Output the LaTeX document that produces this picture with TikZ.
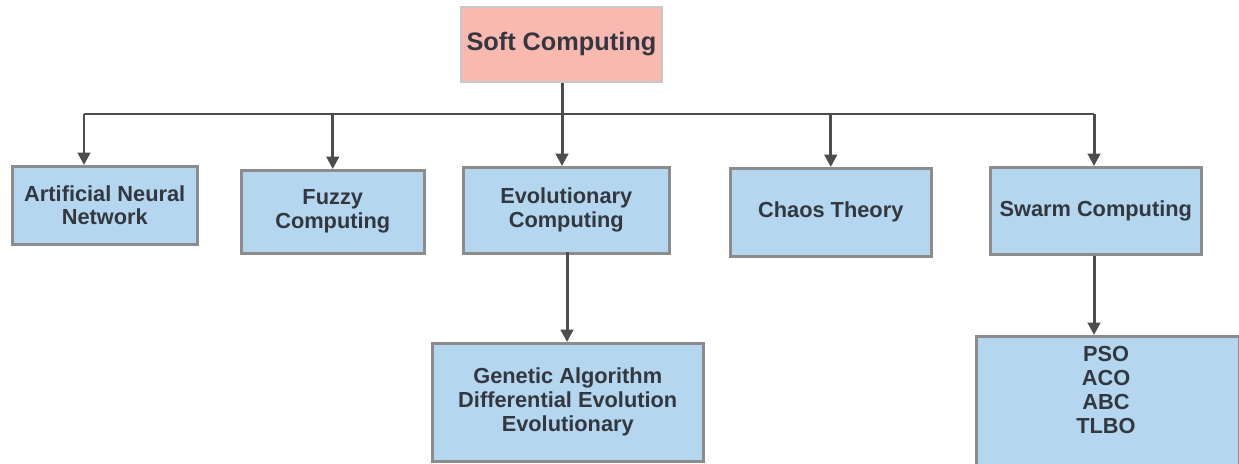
\documentclass[tikz,border=0pt]{standalone}
\usepackage{fontspec}
\setmainfont{Liberation Sans}
\usetikzlibrary{arrows.meta}
\definecolor{boxblue}{RGB}{180,214,238}
\definecolor{boxpink}{RGB}{249,184,176}
\definecolor{boxedge}{RGB}{140,140,140}
\definecolor{pinkedge}{RGB}{200,200,200}
\definecolor{txt}{RGB}{51,56,64}
\definecolor{arr}{RGB}{77,77,77}
\begin{document}
\begin{tikzpicture}[x=0.02cm,y=-0.02cm,
  blue box/.style={draw=boxedge,line width=2.5pt*0.57,fill=boxblue,text=txt,font=\bfseries\fontsize{12.4pt}{13.6pt}\selectfont,align=center,inner sep=0pt,anchor=north west},
  pink box/.style={draw=pinkedge,line width=1pt,fill=boxpink,text=txt,font=\bfseries\fontsize{14.4pt}{16pt}\selectfont,align=center,inner sep=0pt,anchor=north west},
  link/.style={draw=arr,line width=1.7pt,-{Triangle[length=7pt,width=7pt]}},
  plain link/.style={draw=arr,line width=1.7pt}]
\useasboundingbox (0,0) rectangle (1239,463);
\begin{scope}
\clip (0,0) rectangle (1239,463);
\node[pink box,minimum width=201*0.02cm,minimum height=75*0.02cm] (soft) at (460,6) {Soft Computing};
\node[blue box,minimum width=185*0.02cm,minimum height=78*0.02cm] (ann) at (11,165) {Artificial Neural\\Network};
\node[blue box,minimum width=183*0.02cm,minimum height=83*0.02cm] (fuzzy) at (240,169) {Fuzzy\\Computing};
\node[blue box,minimum width=206*0.02cm,minimum height=86*0.02cm] (evo) at (462,166) {Evolutionary\\Computing};
\node[blue box,minimum width=201*0.02cm,minimum height=88*0.02cm] (chaos) at (729,167) {Chaos Theory};
\node[blue box,minimum width=211*0.02cm,minimum height=87*0.02cm] (swarm) at (989,166) {Swarm Computing};
\node[blue box,minimum width=271*0.02cm,minimum height=118*0.02cm] (ga) at (431,342) {Genetic Algorithm\\Differential Evolution\\Evolutionary};
\node[blue box,minimum width=263*0.02cm,minimum height=150*0.02cm] (pso) at (975,335) {};
\node[text=txt,font=\bfseries\fontsize{12.4pt}{13.6pt}\selectfont,align=center,anchor=north] (psotext) at (1106,340) {PSO\\ACO\\ABC\\TLBO};
\end{scope}
\coordinate (bus) at (562,114);
\coordinate (busl) at (84,114);
\coordinate (busr) at (1094,114);
\draw[plain link] (soft.south -| bus) -- (bus);
\draw[plain link] (busl) -- (busr);
\draw[link] (busl) -- (busl |- ann.north);
\draw[link] (bus -| fuzzy.north) -- (fuzzy.north);
\draw[link] (bus) -- (bus |- evo.north);
\draw[link] (bus -| chaos.north) -- (chaos.north);
\draw[link] (busr) -- (busr |- swarm.north);
\draw[link] (567,252) -- (567,342);
\draw[link] (busr |- swarm.south) -- (busr |- pso.north);
\end{tikzpicture}
\end{document}
